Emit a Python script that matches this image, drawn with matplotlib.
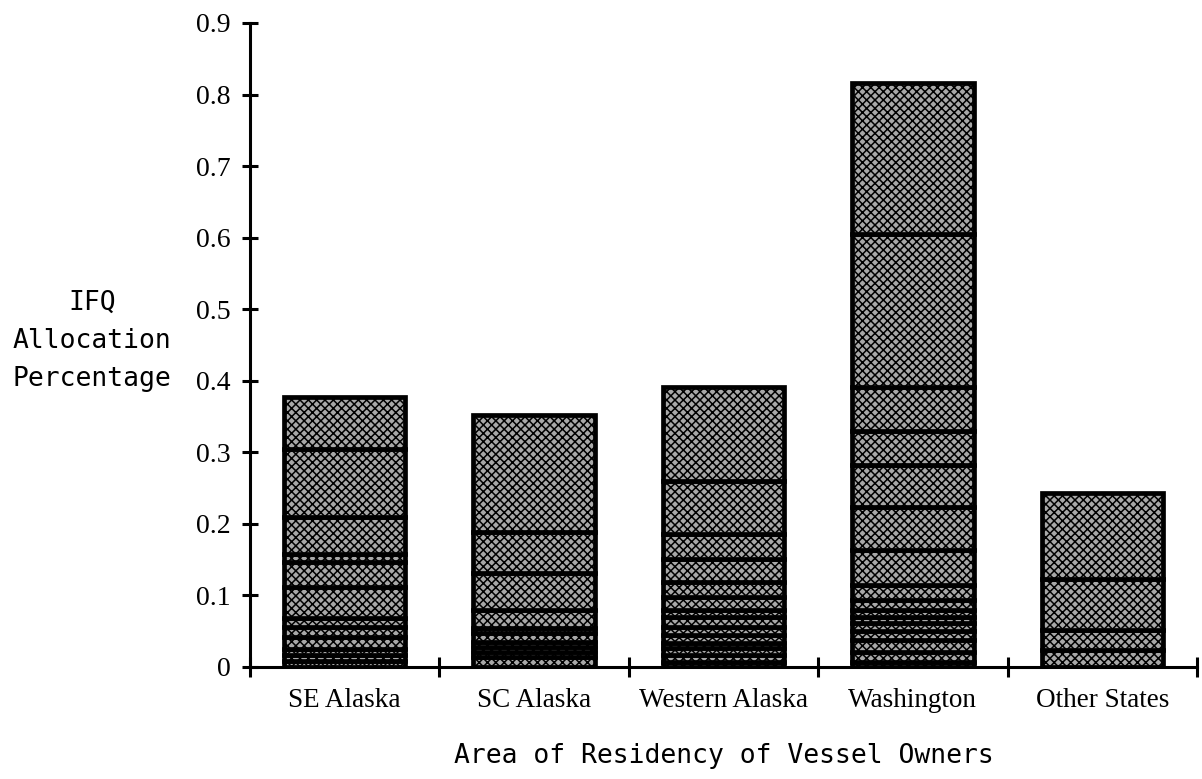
import numpy as np
import matplotlib.pyplot as plt

# Regions (x categories)
regions = ['SE Alaska', 'SC Alaska', 'Western Alaska', 'Washington', 'Other States']

# Stacked segment heights per region, bottom to top
se_alaska = [0.008, 0.009, 0.008, 0.017, 0.014, 0.012, 0.044, 0.035, 0.011, 0.051, 0.095, 0.074]
sc_alaska = [0.014, 0.007, 0.007, 0.007, 0.012, 0.007, 0.026, 0.051, 0.058, 0.163]
western_alaska = [0.007, 0.010, 0.009, 0.008, 0.011, 0.011, 0.014, 0.010, 0.018, 0.021,
                  0.032, 0.035, 0.074, 0.131]
washington = [0.007, 0.014, 0.017, 0.012, 0.011, 0.009, 0.010, 0.014, 0.021, 0.048,
              0.060, 0.059, 0.048, 0.061, 0.214, 0.211]
other_states = [0.024, 0.028, 0.071, 0.120]

segments = [se_alaska, sc_alaska, western_alaska, washington, other_states]

y_ticks = [0, 0.1, 0.2, 0.3, 0.4, 0.5, 0.6, 0.7, 0.8, 0.9]
y_tick_labels = ['0', '0.1', '0.2', '0.3', '0.4', '0.5', '0.6', '0.7', '0.8', '0.9']

plt.rcParams['hatch.linewidth'] = 1.1

fig = plt.figure(figsize=(12.02, 7.79), dpi=100)
ax = fig.add_axes([250 / 1202, 1 - 667 / 779, (1197 - 250) / 1202, (667 - 23) / 779])

# Draw stacked bars
for i, segs in enumerate(segments):
    bottom = 0.0
    for h in segs:
        ax.bar(i + 0.5, h, width=0.64, bottom=bottom, facecolor='#a8a8a8',
               edgecolor='black', linewidth=3.4, hatch='xxxx', zorder=2)
        bottom += h

ax.set_xlim(0, 5)
ax.set_ylim(0, 0.9)

# Spines
for s in ['top', 'right']:
    ax.spines[s].set_visible(False)
for s in ['left', 'bottom']:
    ax.spines[s].set_linewidth(2.2)

# Y axis ticks
ax.set_yticks(y_ticks)
ax.set_yticklabels(y_tick_labels, fontfamily='Liberation Serif', fontsize=20)
ax.tick_params(axis='y', direction='inout', length=11.5, width=2.2, pad=8)

# X axis: major ticks at category boundaries, labels at centers
ax.set_xticks(np.arange(0, 6))
ax.set_xticklabels([])
ax.set_xticks(np.arange(0.5, 5), minor=True)
ax.set_xticklabels(regions, minor=True, fontfamily='Liberation Serif', fontsize=19.5)
ax.tick_params(axis='x', which='major', direction='inout', length=15, width=2.2)
ax.tick_params(axis='x', which='minor', length=0, pad=15)

# Axis labels
ax.set_xlabel('Area of Residency of Vessel Owners', fontfamily='DejaVu Sans Mono',
              fontsize=19, labelpad=22)
fig.text(92 / 1202, 1 - 341 / 779, 'IFQ\nAllocation\nPercentage', ha='center', va='center',
         multialignment='center', fontfamily='DejaVu Sans Mono', fontsize=19,
         linespacing=1.6)

plt.savefig('out.png', dpi=100)
